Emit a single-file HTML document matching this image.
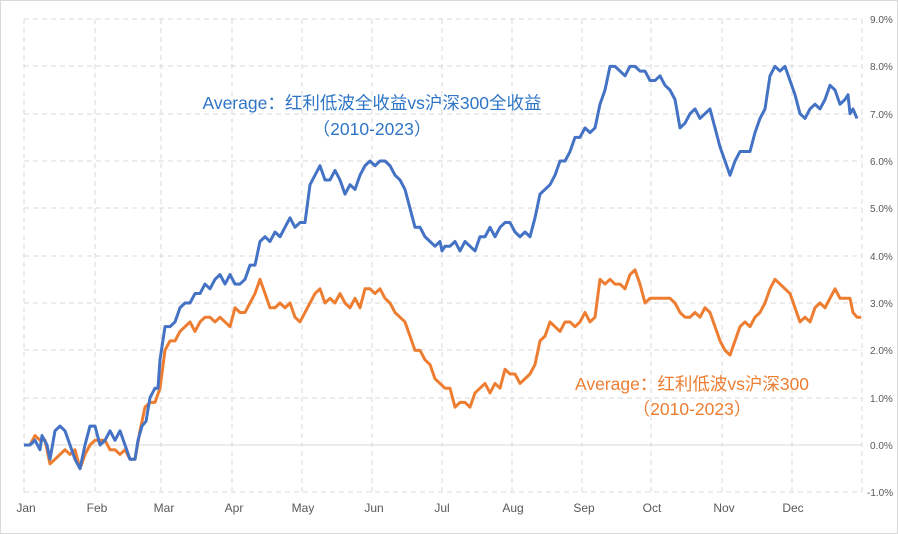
<!DOCTYPE html>
<html><head><meta charset="utf-8"><style>
html,body{margin:0;padding:0;background:#fff;}
svg{display:block;font-family:"Liberation Sans","Noto Sans CJK SC",sans-serif;}
</style></head><body>
<svg width="898" height="534" viewBox="0 0 898 534" xmlns="http://www.w3.org/2000/svg">
<rect x="0.5" y="0.5" width="897" height="533" fill="#fff" stroke="#d9d9d9"/>
<g stroke="#d9d9d9" stroke-width="1" stroke-dasharray="5,4" fill="none">
<line x1="24" y1="19" x2="862" y2="19"/><line x1="24" y1="66" x2="862" y2="66"/><line x1="24" y1="114" x2="862" y2="114"/><line x1="24" y1="161" x2="862" y2="161"/><line x1="24" y1="208" x2="862" y2="208"/><line x1="24" y1="256" x2="862" y2="256"/><line x1="24" y1="303" x2="862" y2="303"/><line x1="24" y1="350" x2="862" y2="350"/><line x1="24" y1="398" x2="862" y2="398"/><line x1="24" y1="492" x2="862" y2="492"/>
<line x1="24" y1="19" x2="24" y2="492"/><line x1="95" y1="19" x2="95" y2="492"/><line x1="161" y1="19" x2="161" y2="492"/><line x1="232" y1="19" x2="232" y2="492"/><line x1="302" y1="19" x2="302" y2="492"/><line x1="372" y1="19" x2="372" y2="492"/><line x1="442" y1="19" x2="442" y2="492"/><line x1="512" y1="19" x2="512" y2="492"/><line x1="582" y1="19" x2="582" y2="492"/><line x1="651" y1="19" x2="651" y2="492"/><line x1="722" y1="19" x2="722" y2="492"/><line x1="792" y1="19" x2="792" y2="492"/><line x1="862" y1="19" x2="862" y2="492"/>
</g>
<line x1="24" y1="445" x2="862" y2="445" stroke="#d9d9d9" stroke-width="1"/>
<g font-size="10" fill="#595959">
<text x="870" y="23">9.0%</text><text x="870" y="70">8.0%</text><text x="870" y="118">7.0%</text><text x="870" y="165">6.0%</text><text x="870" y="212">5.0%</text><text x="870" y="260">4.0%</text><text x="870" y="307">3.0%</text><text x="870" y="354">2.0%</text><text x="870" y="402">1.0%</text><text x="870" y="449">0.0%</text><text x="867" y="496">-1.0%</text>
</g>
<g font-size="12" fill="#595959" text-anchor="middle">
<text x="26" y="512">Jan</text><text x="97" y="512">Feb</text><text x="164" y="512">Mar</text><text x="234" y="512">Apr</text><text x="303" y="512">May</text><text x="374" y="512">Jun</text><text x="442" y="512">Jul</text><text x="513" y="512">Aug</text><text x="584" y="512">Sep</text><text x="652" y="512">Oct</text><text x="724" y="512">Nov</text><text x="793" y="512">Dec</text>
</g>
<g transform="translate(0,445) scale(1,-47.33)" fill="none" stroke-width="3" stroke-linejoin="round">
<polyline vector-effect="non-scaling-stroke" stroke="#ED7D31" points="24,0 30,0 35,0.2 40,0.1 45,0.1 50,-0.4 55,-0.3 60,-0.2 65,-0.1 70,-0.2 75,-0.1 80,-0.5 85,-0.2 90,0 95,0.1 100,0.1 105,0.1 110,-0.1 115,-0.1 120,-0.2 125,-0.1 130,-0.3 135,-0.3 140,0.3 145,0.8 150,0.9 155,0.9 160,1.2 165,2.0 170,2.2 175,2.2 180,2.4 185,2.5 190,2.6 195,2.4 200,2.6 205,2.7 210,2.7 215,2.6 220,2.7 225,2.6 230,2.5 235,2.9 240,2.8 245,2.8 250,3.0 255,3.2 260,3.5 265,3.2 270,2.9 275,2.9 280,3.0 285,2.9 290,3.0 295,2.7 300,2.6 305,2.8 310,3.0 315,3.2 320,3.3 325,3.0 330,3.1 335,3.0 340,3.2 345,3.0 350,2.9 355,3.1 360,2.9 365,3.3 370,3.3 375,3.2 380,3.3 385,3.1 390,3.0 395,2.8 400,2.7 405,2.6 410,2.3 415,2.0 420,2.0 425,1.8 430,1.7 435,1.4 440,1.3 445,1.2 450,1.2 455,0.8 460,0.9 465,0.9 470,0.8 475,1.1 480,1.2 485,1.3 490,1.1 495,1.3 500,1.2 505,1.6 510,1.5 515,1.5 520,1.3 525,1.4 530,1.5 535,1.7 540,2.2 545,2.3 550,2.6 555,2.5 560,2.4 565,2.6 570,2.6 575,2.5 580,2.6 585,2.8 590,2.6 595,2.7 600,3.5 605,3.4 610,3.5 615,3.4 620,3.4 625,3.3 630,3.6 635,3.7 640,3.4 645,3.0 650,3.1 655,3.1 660,3.1 665,3.1 670,3.1 675,3.0 680,2.8 685,2.7 690,2.7 695,2.8 700,2.7 705,2.9 710,2.8 715,2.5 720,2.2 725,2.0 730,1.9 735,2.2 740,2.5 745,2.6 750,2.5 755,2.7 760,2.8 765,3.0 770,3.3 775,3.5 780,3.4 785,3.3 790,3.2 795,2.9 800,2.6 805,2.7 810,2.6 815,2.9 820,3.0 825,2.9 830,3.1 835,3.3 840,3.1 845,3.1 850,3.1 853,2.8 857,2.7 861,2.7"/>
<polyline vector-effect="non-scaling-stroke" stroke="#4472C4" points="24,0 30,0 35,0.1 40,-0.1 42,0.2 47,0 50,-0.3 55,0.3 60,0.4 65,0.3 70,0.0 75,-0.3 80,-0.5 85,0 90,0.4 95,0.4 100,0 105,0.1 110,0.3 115,0.1 120,0.3 125,0 130,-0.3 135,-0.3 138,0.1 142,0.4 146,0.5 150,1.0 155,1.2 158,1.2 160,1.8 165,2.5 170,2.5 175,2.6 180,2.9 185,3.0 190,3.0 195,3.2 200,3.2 205,3.4 210,3.3 215,3.5 220,3.6 225,3.4 230,3.6 235,3.4 240,3.4 245,3.5 250,3.8 255,3.8 260,4.3 265,4.4 270,4.3 275,4.5 280,4.4 285,4.6 290,4.8 295,4.6 300,4.7 305,4.7 310,5.5 315,5.7 320,5.9 325,5.6 330,5.6 335,5.8 340,5.6 345,5.3 350,5.5 355,5.4 360,5.7 365,5.9 370,6.0 375,5.9 380,6.0 385,6.0 390,5.9 395,5.7 400,5.6 405,5.4 410,5.0 415,4.6 420,4.6 425,4.4 430,4.3 435,4.2 440,4.3 442,4.1 445,4.2 450,4.2 455,4.3 460,4.1 465,4.3 470,4.2 475,4.1 480,4.4 485,4.4 490,4.6 495,4.4 500,4.6 505,4.7 510,4.7 515,4.5 520,4.4 525,4.5 530,4.4 535,4.8 540,5.3 545,5.4 550,5.5 555,5.7 560,6.0 565,6.0 570,6.2 575,6.5 580,6.5 585,6.7 590,6.6 595,6.7 600,7.2 605,7.5 610,8.0 615,8.0 620,7.9 625,7.8 630,8.0 635,8.0 640,7.9 645,7.9 650,7.7 655,7.7 660,7.8 665,7.6 670,7.5 675,7.3 680,6.7 685,6.8 690,7.0 695,7.1 700,6.9 705,7.0 710,7.1 715,6.7 720,6.3 725,6.0 730,5.7 735,6.0 740,6.2 745,6.2 750,6.2 755,6.6 760,6.9 765,7.1 770,7.8 775,8.0 780,7.9 785,8.0 790,7.7 795,7.4 800,7.0 805,6.9 810,7.1 815,7.2 820,7.1 825,7.3 830,7.6 835,7.5 840,7.2 845,7.3 848,7.4 850,7.0 853,7.1 857,6.9"/>
</g>
<g font-size="17.5" text-anchor="middle">
<text x="372" y="109" fill="#2E75C6">Average：红利低波全收益vs沪深300全收益</text>
<text x="372" y="135" fill="#2E75C6">（2010-2023）</text>
<text x="692" y="390" fill="#ED7D31">Average：红利低波vs沪深300</text>
<text x="692" y="415" fill="#ED7D31">（2010-2023）</text>
</g>
</svg>
</body></html>
